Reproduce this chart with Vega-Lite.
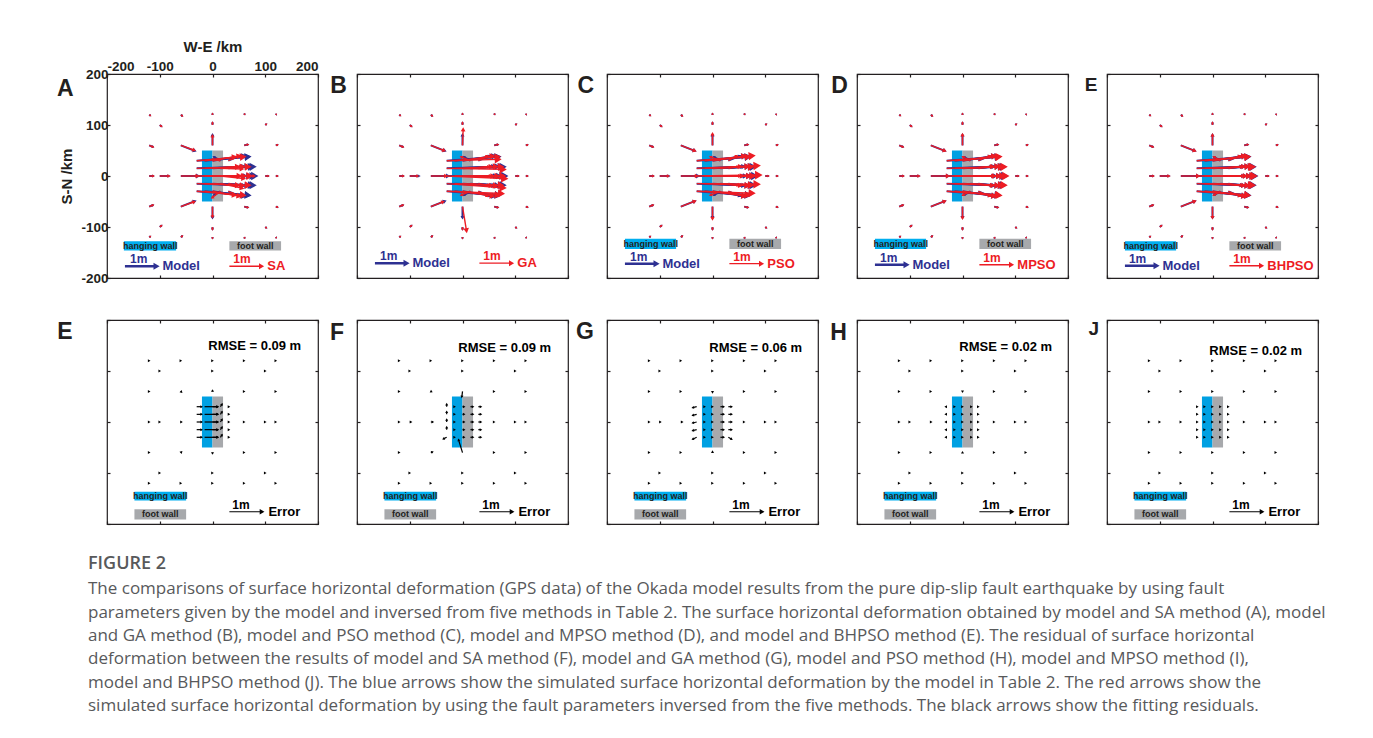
{
 "$schema": "https://vega.github.io/schema/vega-lite/v6.json",
 "background": "white",
 "padding": {"left": 56, "top": 38, "right": 10, "bottom": 10},
 "spacing": 32,
 "datasets": {
  "fault": [
   {"part": "hanging wall", "x0": -20, "x1": 0, "y0": -50, "y1": 50},
   {"part": "foot wall", "x0": 0, "x1": 20, "y0": -50, "y1": 50}
  ],
  "gps": [
   {"x":-120,"y":120,"u":0.04,"v":-0.03,"uA":0.04,"vA":-0.03,"uB":0.04,"vB":-0.03,"uC":0.04,"vC":-0.03,"uD":0.04,"vD":-0.03,"uE":0.04,"vE":-0.03},
   {"x":-60,"y":120,"u":0.05,"v":-0.04,"uA":0.05,"vA":-0.04,"uB":0.05,"vB":-0.04,"uC":0.05,"vC":-0.04,"uD":0.05,"vD":-0.04,"uE":0.05,"vE":-0.04},
   {"x":0,"y":120,"u":0,"v":0.04,"uA":0,"vA":0.04,"uB":0,"vB":0.04,"uC":0,"vC":0.04,"uD":0,"vD":0.04,"uE":0,"vE":0.04},
   {"x":60,"y":120,"u":0.02,"v":0.03,"uA":0.02,"vA":0.03,"uB":0.02,"vB":0.03,"uC":0.02,"vC":0.03,"uD":0.02,"vD":0.03,"uE":0.02,"vE":0.03},
   {"x":120,"y":120,"u":0.02,"v":0.02,"uA":0.02,"vA":0.02,"uB":0.02,"vB":0.02,"uC":0.02,"vC":0.02,"uD":0.02,"vD":0.02,"uE":0.02,"vE":0.02},
   {"x":-100,"y":100,"u":0.06,"v":-0.05,"uA":0.06,"vA":-0.05,"uB":0.06,"vB":-0.05,"uC":0.06,"vC":-0.05,"uD":0.06,"vD":-0.05,"uE":0.06,"vE":-0.05},
   {"x":0,"y":100,"u":0,"v":0.08,"uA":0,"vA":0.08,"uB":0,"vB":0.08,"uC":0,"vC":0.08,"uD":0,"vD":0.08,"uE":0,"vE":0.08},
   {"x":100,"y":100,"u":0.04,"v":0.03,"uA":0.04,"vA":0.03,"uB":0.04,"vB":0.03,"uC":0.04,"vC":0.03,"uD":0.04,"vD":0.03,"uE":0.04,"vE":0.03},
   {"x":-120,"y":60,"u":0.12,"v":-0.05,"uA":0.12,"vA":-0.05,"uB":0.12,"vB":-0.05,"uC":0.12,"vC":-0.05,"uD":0.12,"vD":-0.05,"uE":0.12,"vE":-0.05},
   {"x":-60,"y":60,"u":0.42,"v":-0.17,"uA":0.4,"vA":-0.15,"uB":0.4,"vB":-0.16,"uC":0.42,"vC":-0.17,"uD":0.42,"vD":-0.17,"uE":0.42,"vE":-0.17},
   {"x":0,"y":60,"u":0,"v":0.33,"uA":0,"vA":0.3,"uB":0.02,"vB":0.5,"uC":0,"vC":0.36,"uD":0,"vD":0.34,"uE":0,"vE":0.33},
   {"x":60,"y":60,"u":0.12,"v":0.03,"uA":0.12,"vA":0.03,"uB":0.12,"vB":0.03,"uC":0.12,"vC":0.03,"uD":0.12,"vD":0.03,"uE":0.12,"vE":0.03},
   {"x":120,"y":60,"u":0.06,"v":0.02,"uA":0.06,"vA":0.02,"uB":0.06,"vB":0.02,"uC":0.06,"vC":0.02,"uD":0.06,"vD":0.02,"uE":0.06,"vE":0.02},
   {"x":-120,"y":0,"u":0.13,"v":0,"uA":0.13,"vA":0,"uB":0.13,"vB":0,"uC":0.13,"vC":0,"uD":0.13,"vD":0,"uE":0.13,"vE":0},
   {"x":-100,"y":0,"u":0.28,"v":0,"uA":0.28,"vA":0,"uB":0.24,"vB":0,"uC":0.26,"vC":0,"uD":0.28,"vD":0,"uE":0.28,"vE":0},
   {"x":-60,"y":0,"u":0.52,"v":0,"uA":0.5,"vA":0,"uB":0.46,"vB":0,"uC":0.48,"vC":0,"uD":0.51,"vD":0,"uE":0.52,"vE":0},
   {"x":60,"y":0,"u":0.3,"v":0,"uA":0.3,"vA":0,"uB":0.3,"vB":0,"uC":0.3,"vC":0,"uD":0.3,"vD":0,"uE":0.3,"vE":0},
   {"x":100,"y":0,"u":0.1,"v":0,"uA":0.1,"vA":0,"uB":0.1,"vB":0,"uC":0.1,"vC":0,"uD":0.1,"vD":0,"uE":0.1,"vE":0},
   {"x":120,"y":0,"u":0.06,"v":0,"uA":0.06,"vA":0,"uB":0.06,"vB":0,"uC":0.06,"vC":0,"uD":0.06,"vD":0,"uE":0.06,"vE":0},
   {"x":-120,"y":-60,"u":0.12,"v":0.05,"uA":0.12,"vA":0.05,"uB":0.12,"vB":0.05,"uC":0.12,"vC":0.05,"uD":0.12,"vD":0.05,"uE":0.12,"vE":0.05},
   {"x":-60,"y":-60,"u":0.42,"v":0.17,"uA":0.4,"vA":0.15,"uB":0.37,"vB":0.15,"uC":0.42,"vC":0.17,"uD":0.42,"vD":0.17,"uE":0.42,"vE":0.17},
   {"x":0,"y":-60,"u":0,"v":-0.35,"uA":0,"vA":-0.32,"uB":0.12,"vB":-0.75,"uC":0,"vC":-0.38,"uD":0,"vD":-0.36,"uE":0,"vE":-0.35},
   {"x":60,"y":-60,"u":0.12,"v":-0.03,"uA":0.12,"vA":-0.03,"uB":0.12,"vB":-0.03,"uC":0.12,"vC":-0.03,"uD":0.12,"vD":-0.03,"uE":0.12,"vE":-0.03},
   {"x":120,"y":-60,"u":0.06,"v":-0.02,"uA":0.06,"vA":-0.02,"uB":0.06,"vB":-0.02,"uC":0.06,"vC":-0.02,"uD":0.06,"vD":-0.02,"uE":0.06,"vE":-0.02},
   {"x":-100,"y":-100,"u":0.06,"v":0.05,"uA":0.06,"vA":0.05,"uB":0.06,"vB":0.05,"uC":0.06,"vC":0.05,"uD":0.06,"vD":0.05,"uE":0.06,"vE":0.05},
   {"x":0,"y":-100,"u":0,"v":-0.08,"uA":0,"vA":-0.08,"uB":0,"vB":-0.08,"uC":0,"vC":-0.08,"uD":0,"vD":-0.08,"uE":0,"vE":-0.08},
   {"x":100,"y":-100,"u":0.04,"v":-0.03,"uA":0.04,"vA":-0.03,"uB":0.04,"vB":-0.03,"uC":0.04,"vC":-0.03,"uD":0.04,"vD":-0.03,"uE":0.04,"vE":-0.03},
   {"x":-120,"y":-120,"u":0.04,"v":0.03,"uA":0.04,"vA":0.03,"uB":0.04,"vB":0.03,"uC":0.04,"vC":0.03,"uD":0.04,"vD":0.03,"uE":0.04,"vE":0.03},
   {"x":-60,"y":-120,"u":0.05,"v":0.04,"uA":0.05,"vA":0.04,"uB":0.05,"vB":0.04,"uC":0.05,"vC":0.04,"uD":0.05,"vD":0.04,"uE":0.05,"vE":0.04},
   {"x":0,"y":-120,"u":0,"v":-0.04,"uA":0,"vA":-0.04,"uB":0,"vB":-0.04,"uC":0,"vC":-0.04,"uD":0,"vD":-0.04,"uE":0,"vE":-0.04},
   {"x":60,"y":-120,"u":0.02,"v":-0.03,"uA":0.02,"vA":-0.03,"uB":0.02,"vB":-0.03,"uC":0.02,"vC":-0.03,"uD":0.02,"vD":-0.03,"uE":0.02,"vE":-0.03},
   {"x":120,"y":-120,"u":0.02,"v":-0.02,"uA":0.02,"vA":-0.02,"uB":0.02,"vB":-0.02,"uC":0.02,"vC":-0.02,"uD":0.02,"vD":-0.02,"uE":0.02,"vE":-0.02},
   {"x":-30,"y":30,"u":1.55,"v":0.12,"uA":1.4,"vA":0.12,"uB":1.55,"vB":0.04,"uC":1.67,"vC":0.15,"uD":1.58,"vD":0.12,"uE":1.53,"vE":0.12},
   {"x":-15,"y":30,"u":1.3,"v":0.12,"uA":0.9,"vA":0.12,"uB":1.3,"vB":0.12,"uC":1.3,"vC":0.12,"uD":1.3,"vD":0.12,"uE":1.3,"vE":0.12},
   {"x":0,"y":30,"u":0.95,"v":0.15,"uA":0.8,"vA":0.15,"uB":0.9,"vB":0.15,"uC":0.95,"vC":0.15,"uD":0.95,"vD":0.15,"uE":0.95,"vE":0.15},
   {"x":15,"y":30,"u":-0.2,"v":0.12,"uA":-0.25,"vA":0.04,"uB":-0.28,"vB":0.12,"uC":-0.3,"vC":0.12,"uD":-0.23,"vD":0.12,"uE":-0.2,"vE":0.12},
   {"x":30,"y":30,"u":0.35,"v":0.15,"uA":0.33,"vA":0.15,"uB":0.27,"vB":0.15,"uC":0.25,"vC":0.15,"uD":0.35,"vD":0.15,"uE":0.35,"vE":0.15},
   {"x":-30,"y":15,"u":1.7,"v":0.05,"uA":1.55,"vA":0.05,"uB":1.7,"vB":-0.03,"uC":1.82,"vC":0.08,"uD":1.73,"vD":0.05,"uE":1.68,"vE":0.05},
   {"x":-15,"y":15,"u":1.4,"v":0.05,"uA":1.0,"vA":0.05,"uB":1.4,"vB":0.05,"uC":1.4,"vC":0.05,"uD":1.4,"vD":0.05,"uE":1.4,"vE":0.05},
   {"x":0,"y":15,"u":1.05,"v":0.06,"uA":0.9,"vA":0.06,"uB":1.0,"vB":0.06,"uC":1.05,"vC":0.06,"uD":1.05,"vD":0.06,"uE":1.05,"vE":0.06},
   {"x":15,"y":15,"u":0.7,"v":0.06,"uA":0.65,"vA":-0.02,"uB":0.62,"vB":0.06,"uC":0.6,"vC":0.06,"uD":0.67,"vD":0.06,"uE":0.7,"vE":0.06},
   {"x":30,"y":15,"u":0.4,"v":0.05,"uA":0.38,"vA":0.05,"uB":0.32,"vB":0.05,"uC":0.3,"vC":0.05,"uD":0.4,"vD":0.05,"uE":0.4,"vE":0.05},
   {"x":-30,"y":0,"u":1.75,"v":0,"uA":1.6,"vA":0,"uB":1.75,"vB":-0.08,"uC":1.87,"vC":0.03,"uD":1.78,"vD":0,"uE":1.73,"vE":0},
   {"x":-15,"y":0,"u":1.45,"v":0,"uA":1.05,"vA":0,"uB":1.45,"vB":0,"uC":1.45,"vC":0,"uD":1.45,"vD":0,"uE":1.45,"vE":0},
   {"x":0,"y":0,"u":1.1,"v":0,"uA":0.95,"vA":0,"uB":1.05,"vB":0,"uC":1.1,"vC":0,"uD":1.1,"vD":0,"uE":1.1,"vE":0},
   {"x":15,"y":0,"u":0.75,"v":0,"uA":0.7,"vA":-0.08,"uB":0.67,"vB":0,"uC":0.65,"vC":0,"uD":0.72,"vD":0,"uE":0.75,"vE":0},
   {"x":30,"y":0,"u":0.45,"v":0,"uA":0.43,"vA":0,"uB":0.37,"vB":0,"uC":0.35,"vC":0,"uD":0.45,"vD":0,"uE":0.45,"vE":0},
   {"x":-30,"y":-15,"u":1.7,"v":-0.05,"uA":1.55,"vA":-0.05,"uB":1.7,"vB":-0.13,"uC":1.82,"vC":-0.02,"uD":1.73,"vD":-0.05,"uE":1.68,"vE":-0.05},
   {"x":-15,"y":-15,"u":1.4,"v":-0.05,"uA":1.0,"vA":-0.05,"uB":1.4,"vB":-0.05,"uC":1.4,"vC":-0.05,"uD":1.4,"vD":-0.05,"uE":1.4,"vE":-0.05},
   {"x":0,"y":-15,"u":1.05,"v":-0.06,"uA":0.9,"vA":-0.06,"uB":1.0,"vB":-0.06,"uC":1.05,"vC":-0.06,"uD":1.05,"vD":-0.06,"uE":1.05,"vE":-0.06},
   {"x":15,"y":-15,"u":0.7,"v":-0.06,"uA":0.65,"vA":-0.14,"uB":0.62,"vB":-0.06,"uC":0.6,"vC":-0.06,"uD":0.67,"vD":-0.06,"uE":0.7,"vE":-0.06},
   {"x":30,"y":-15,"u":0.4,"v":-0.05,"uA":0.38,"vA":-0.05,"uB":0.32,"vB":-0.05,"uC":0.3,"vC":-0.05,"uD":0.4,"vD":-0.05,"uE":0.4,"vE":-0.05},
   {"x":-30,"y":-30,"u":1.55,"v":-0.12,"uA":1.4,"vA":-0.12,"uB":1.65,"vB":-0.07,"uC":1.67,"vC":-0.06,"uD":1.58,"vD":-0.12,"uE":1.53,"vE":-0.12},
   {"x":-15,"y":-30,"u":1.3,"v":-0.12,"uA":0.9,"vA":-0.12,"uB":1.3,"vB":-0.12,"uC":1.3,"vC":-0.12,"uD":1.3,"vD":-0.12,"uE":1.3,"vE":-0.12},
   {"x":0,"y":-30,"u":0.95,"v":-0.15,"uA":0.8,"vA":-0.15,"uB":0.9,"vB":-0.15,"uC":0.95,"vC":-0.15,"uD":0.95,"vD":-0.15,"uE":0.95,"vE":-0.15},
   {"x":15,"y":-30,"u":-0.2,"v":-0.12,"uA":-0.25,"vA":-0.2,"uB":-0.28,"vB":-0.12,"uC":-0.3,"vC":-0.12,"uD":-0.23,"vD":-0.12,"uE":-0.2,"vE":-0.12},
   {"x":30,"y":-30,"u":0.35,"v":-0.15,"uA":0.33,"vA":-0.15,"uB":0.27,"vB":-0.15,"uC":0.25,"vC":-0.09,"uD":0.35,"vD":-0.15,"uE":0.35,"vE":-0.15}
  ]
 },
 "title": {
  "text": "FIGURE 2",
  "subtitle": [
   "The comparisons of surface horizontal deformation (GPS data) of the Okada model results from the pure dip-slip fault earthquake by using fault",
   "parameters given by the model and inversed from five methods in Table 2. The surface horizontal deformation obtained by model and SA method (A), model",
   "and GA method (B), model and PSO method (C), model and MPSO method (D), and model and BHPSO method (E). The residual of surface horizontal",
   "deformation between the results of model and SA method (F), model and GA method (G), model and PSO method (H), model and MPSO method (I),",
   "model and BHPSO method (J). The blue arrows show the simulated surface horizontal deformation by the model in Table 2. The red arrows show the",
   "simulated surface horizontal deformation by using the fault parameters inversed from the five methods. The black arrows show the fitting residuals."
  ],
  "orient": "bottom", "anchor": "start", "frame": "group",
  "offset": 30, "dx": -19,
  "font": "Open Sans", "fontSize": 18, "fontWeight": 600, "color": "#58595b",
  "subtitleFont": "Open Sans", "subtitleFontSize": 17, "subtitleColor": "#58595b",
  "subtitleLineHeight": 23.4, "subtitlePadding": 8
 },
 "vconcat": [
  {"hconcat": [
   {"width": 211, "height": 204,
    "resolve": {"axis": {"x": "independent", "y": "independent"}},
    "layer": [
     {"layer": [
      {"data": {"name": "fault"}, "mark": "rect",
       "encoding": {
        "x": {"field": "x0", "type": "quantitative", "scale": {"domain": [-200, 200], "nice": false}, "axis": {"orient": "top", "labels": true, "title": "W-E /km", "labelPadding": 4, "titlePadding": 5, "labelExpr": "replace(datum.label, '\u2212', '-')"}},
        "x2": {"field": "x1"},
        "y": {"field": "y0", "type": "quantitative", "scale": {"domain": [-200, 200], "nice": false}, "axis": {"labels": true, "title": "S-N /km", "labelPadding": 2, "titlePadding": 6, "labelExpr": "replace(datum.label, '\u2212', '-')"}},
        "y2": {"field": "y1"},
        "color": {"field": "part", "type": "nominal", "scale": {"domain": ["hanging wall", "foot wall"], "range": ["#00a0e2", "#a7a9ac"]}, "legend": null}}},
      {"data": {"values": [{}]}, "mark": {"type": "rect", "color": "#00aeef"}, "encoding": {"x": {"datum": -168}, "x2": {"datum": -69}, "y": {"datum": -128}, "y2": {"datum": -146}}},
      {"data": {"values": [{}]}, "mark": {"type": "rect", "color": "#a7a9ac"}, "encoding": {"x": {"datum": 32}, "x2": {"datum": 130}, "y": {"datum": -128}, "y2": {"datum": -146}}},
      {"data": {"values": [{}]}, "mark": {"type": "text", "style": "bx", "text": "hanging wall", "color": "#231f20"}, "encoding": {"x": {"datum": -118}, "y": {"datum": -137}}},
      {"data": {"values": [{}]}, "mark": {"type": "text", "style": "bx", "text": "foot wall", "color": "#231f20"}, "encoding": {"x": {"datum": 81}, "y": {"datum": -137}}},
      {"data": {"name": "gps"},
       "transform": [{"calculate": "datum.x + 63 * datum.u", "as": "xe"}, {"calculate": "datum.y + 63 * datum.v", "as": "ye"}, {"calculate": "atan2(-datum.v, datum.u) * 180 / PI", "as": "ang"}, {"calculate": "sqrt(datum.u * datum.u + datum.v * datum.v)", "as": "mag"}],
       "layer": [
        {"mark": {"type": "rule", "color": "#2e3192", "strokeWidth": 2}, "encoding": {"x": {"field": "x", "type": "quantitative"}, "y": {"field": "y", "type": "quantitative"}, "x2": {"field": "xe"}, "y2": {"field": "ye"}}},
        {"mark": {"type": "point", "shape": "triangle-right", "filled": true, "opacity": 1, "color": "#2e3192"}, "encoding": {"x": {"field": "xe", "type": "quantitative"}, "y": {"field": "ye", "type": "quantitative"}, "angle": {"field": "ang", "type": "quantitative", "scale": null}, "size": {"field": "mag", "type": "quantitative", "scale": {"domain": [0, 2], "range": [3, 80]}, "legend": null}}}
       ]},
      {"data": {"name": "gps"},
       "transform": [{"calculate": "datum.x + 63 * datum.uA", "as": "xe"}, {"calculate": "datum.y + 63 * datum.vA", "as": "ye"}, {"calculate": "atan2(-datum.vA, datum.uA) * 180 / PI", "as": "ang"}, {"calculate": "sqrt(datum.uA * datum.uA + datum.vA * datum.vA)", "as": "mag"}],
       "layer": [
        {"mark": {"type": "rule", "color": "#ed1c24", "strokeWidth": 1.4}, "encoding": {"x": {"field": "x", "type": "quantitative"}, "y": {"field": "y", "type": "quantitative"}, "x2": {"field": "xe"}, "y2": {"field": "ye"}}},
        {"mark": {"type": "point", "shape": "triangle-right", "filled": true, "opacity": 1, "color": "#ed1c24"}, "encoding": {"x": {"field": "xe", "type": "quantitative"}, "y": {"field": "ye", "type": "quantitative"}, "angle": {"field": "ang", "type": "quantitative", "scale": null}, "size": {"field": "mag", "type": "quantitative", "scale": {"domain": [0, 2], "range": [2, 60]}, "legend": null}}}
       ]},
      {"data": {"values": [{}]}, "mark": {"type": "rule", "color": "#2e3192", "strokeWidth": 2.4}, "encoding": {"x": {"datum": -166}, "x2": {"datum": -106}, "y": {"datum": -177}}},
      {"data": {"values": [{}]}, "mark": {"type": "point", "shape": "triangle-right", "filled": true, "opacity": 1, "color": "#2e3192", "size": 50}, "encoding": {"x": {"datum": -106}, "y": {"datum": -177}}},
      {"data": {"values": [{}]}, "mark": {"type": "text", "style": "om", "text": "1m", "color": "#2e3192"}, "encoding": {"x": {"datum": -140}, "y": {"datum": -163}}},
      {"data": {"values": [{}]}, "mark": {"type": "text", "style": "ky", "text": "Model", "color": "#2e3192"}, "encoding": {"x": {"datum": -95}, "y": {"datum": -177}}},
      {"data": {"values": [{}]}, "mark": {"type": "rule", "color": "#ed1c24", "strokeWidth": 1.3}, "encoding": {"x": {"datum": 32}, "x2": {"datum": 93}, "y": {"datum": -177}}},
      {"data": {"values": [{}]}, "mark": {"type": "point", "shape": "triangle-right", "filled": true, "opacity": 1, "color": "#ed1c24", "size": 35}, "encoding": {"x": {"datum": 93}, "y": {"datum": -177}}},
      {"data": {"values": [{}]}, "mark": {"type": "text", "style": "om", "text": "1m", "color": "#ed1c24"}, "encoding": {"x": {"datum": 56}, "y": {"datum": -163}}},
      {"data": {"values": [{}]}, "mark": {"type": "text", "style": "ky", "text": "SA", "color": "#ed1c24"}, "encoding": {"x": {"datum": 104}, "y": {"datum": -177}}}
     ]},
     {"data": {"values": [{}]}, "mark": {"type": "text", "style": "lt", "text": "A", "color": "#231f20"}, "encoding": {"x": {"datum": -279, "axis": {"orient": "bottom", "title": null}}, "y": {"datum": 157, "axis": {"orient": "right", "title": null}}}}
    ]},
   {"width": 211, "height": 204,
    "resolve": {"axis": {"x": "independent", "y": "independent"}},
    "layer": [
     {"layer": [
      {"data": {"name": "fault"}, "mark": "rect",
       "encoding": {
        "x": {"field": "x0", "type": "quantitative", "scale": {"domain": [-200, 200], "nice": false}, "axis": {"title": null}},
        "x2": {"field": "x1"},
        "y": {"field": "y0", "type": "quantitative", "scale": {"domain": [-200, 200], "nice": false}, "axis": {"title": null}},
        "y2": {"field": "y1"},
        "color": {"field": "part", "type": "nominal", "scale": {"domain": ["hanging wall", "foot wall"], "range": ["#00a0e2", "#a7a9ac"]}, "legend": null}}},
      {"data": {"name": "gps"},
       "transform": [{"calculate": "datum.x + 63 * datum.u", "as": "xe"}, {"calculate": "datum.y + 63 * datum.v", "as": "ye"}, {"calculate": "atan2(-datum.v, datum.u) * 180 / PI", "as": "ang"}, {"calculate": "sqrt(datum.u * datum.u + datum.v * datum.v)", "as": "mag"}],
       "layer": [
        {"mark": {"type": "rule", "color": "#2e3192", "strokeWidth": 2}, "encoding": {"x": {"field": "x", "type": "quantitative"}, "y": {"field": "y", "type": "quantitative"}, "x2": {"field": "xe"}, "y2": {"field": "ye"}}},
        {"mark": {"type": "point", "shape": "triangle-right", "filled": true, "opacity": 1, "color": "#2e3192"}, "encoding": {"x": {"field": "xe", "type": "quantitative"}, "y": {"field": "ye", "type": "quantitative"}, "angle": {"field": "ang", "type": "quantitative", "scale": null}, "size": {"field": "mag", "type": "quantitative", "scale": {"domain": [0, 2], "range": [3, 80]}, "legend": null}}}
       ]},
      {"data": {"name": "gps"},
       "transform": [{"calculate": "datum.x + 63 * datum.uB", "as": "xe"}, {"calculate": "datum.y + 63 * datum.vB", "as": "ye"}, {"calculate": "atan2(-datum.vB, datum.uB) * 180 / PI", "as": "ang"}, {"calculate": "sqrt(datum.uB * datum.uB + datum.vB * datum.vB)", "as": "mag"}],
       "layer": [
        {"mark": {"type": "rule", "color": "#ed1c24", "strokeWidth": 1.4}, "encoding": {"x": {"field": "x", "type": "quantitative"}, "y": {"field": "y", "type": "quantitative"}, "x2": {"field": "xe"}, "y2": {"field": "ye"}}},
        {"mark": {"type": "point", "shape": "triangle-right", "filled": true, "opacity": 1, "color": "#ed1c24"}, "encoding": {"x": {"field": "xe", "type": "quantitative"}, "y": {"field": "ye", "type": "quantitative"}, "angle": {"field": "ang", "type": "quantitative", "scale": null}, "size": {"field": "mag", "type": "quantitative", "scale": {"domain": [0, 2], "range": [2, 60]}, "legend": null}}}
       ]},
      {"data": {"values": [{}]}, "mark": {"type": "rule", "color": "#2e3192", "strokeWidth": 2.4}, "encoding": {"x": {"datum": -166}, "x2": {"datum": -106}, "y": {"datum": -171}}},
      {"data": {"values": [{}]}, "mark": {"type": "point", "shape": "triangle-right", "filled": true, "opacity": 1, "color": "#2e3192", "size": 50}, "encoding": {"x": {"datum": -106}, "y": {"datum": -171}}},
      {"data": {"values": [{}]}, "mark": {"type": "text", "style": "om", "text": "1m", "color": "#2e3192"}, "encoding": {"x": {"datum": -140}, "y": {"datum": -157}}},
      {"data": {"values": [{}]}, "mark": {"type": "text", "style": "ky", "text": "Model", "color": "#2e3192"}, "encoding": {"x": {"datum": -95}, "y": {"datum": -171}}},
      {"data": {"values": [{}]}, "mark": {"type": "rule", "color": "#ed1c24", "strokeWidth": 1.3}, "encoding": {"x": {"datum": 32}, "x2": {"datum": 93}, "y": {"datum": -171}}},
      {"data": {"values": [{}]}, "mark": {"type": "point", "shape": "triangle-right", "filled": true, "opacity": 1, "color": "#ed1c24", "size": 35}, "encoding": {"x": {"datum": 93}, "y": {"datum": -171}}},
      {"data": {"values": [{}]}, "mark": {"type": "text", "style": "om", "text": "1m", "color": "#ed1c24"}, "encoding": {"x": {"datum": 56}, "y": {"datum": -157}}},
      {"data": {"values": [{}]}, "mark": {"type": "text", "style": "ky", "text": "GA", "color": "#ed1c24"}, "encoding": {"x": {"datum": 104}, "y": {"datum": -171}}}
     ]},
     {"data": {"values": [{}]}, "mark": {"type": "text", "style": "lt", "text": "B", "color": "#231f20"}, "encoding": {"x": {"datum": -235, "axis": {"orient": "top", "title": null}}, "y": {"datum": 162, "axis": {"orient": "right", "title": null}}}}
    ]},
   {"width": 211, "height": 204,
    "resolve": {"axis": {"x": "independent", "y": "independent"}},
    "layer": [
     {"layer": [
      {"data": {"name": "fault"}, "mark": "rect",
       "encoding": {
        "x": {"field": "x0", "type": "quantitative", "scale": {"domain": [-200, 200], "nice": false}, "axis": {"title": null}},
        "x2": {"field": "x1"},
        "y": {"field": "y0", "type": "quantitative", "scale": {"domain": [-200, 200], "nice": false}, "axis": {"title": null}},
        "y2": {"field": "y1"},
        "color": {"field": "part", "type": "nominal", "scale": {"domain": ["hanging wall", "foot wall"], "range": ["#00a0e2", "#a7a9ac"]}, "legend": null}}},
      {"data": {"values": [{}]}, "mark": {"type": "rect", "color": "#00aeef"}, "encoding": {"x": {"datum": -166}, "x2": {"datum": -69}, "y": {"datum": -123}, "y2": {"datum": -143}}},
      {"data": {"values": [{}]}, "mark": {"type": "rect", "color": "#a7a9ac"}, "encoding": {"x": {"datum": 32}, "x2": {"datum": 130}, "y": {"datum": -123}, "y2": {"datum": -143}}},
      {"data": {"values": [{}]}, "mark": {"type": "text", "style": "bx", "text": "hanging wall", "color": "#231f20"}, "encoding": {"x": {"datum": -117}, "y": {"datum": -133}}},
      {"data": {"values": [{}]}, "mark": {"type": "text", "style": "bx", "text": "foot wall", "color": "#231f20"}, "encoding": {"x": {"datum": 81}, "y": {"datum": -133}}},
      {"data": {"name": "gps"},
       "transform": [{"calculate": "datum.x + 63 * datum.u", "as": "xe"}, {"calculate": "datum.y + 63 * datum.v", "as": "ye"}, {"calculate": "atan2(-datum.v, datum.u) * 180 / PI", "as": "ang"}, {"calculate": "sqrt(datum.u * datum.u + datum.v * datum.v)", "as": "mag"}],
       "layer": [
        {"mark": {"type": "rule", "color": "#2e3192", "strokeWidth": 2}, "encoding": {"x": {"field": "x", "type": "quantitative"}, "y": {"field": "y", "type": "quantitative"}, "x2": {"field": "xe"}, "y2": {"field": "ye"}}},
        {"mark": {"type": "point", "shape": "triangle-right", "filled": true, "opacity": 1, "color": "#2e3192"}, "encoding": {"x": {"field": "xe", "type": "quantitative"}, "y": {"field": "ye", "type": "quantitative"}, "angle": {"field": "ang", "type": "quantitative", "scale": null}, "size": {"field": "mag", "type": "quantitative", "scale": {"domain": [0, 2], "range": [3, 80]}, "legend": null}}}
       ]},
      {"data": {"name": "gps"},
       "transform": [{"calculate": "datum.x + 63 * datum.uC", "as": "xe"}, {"calculate": "datum.y + 63 * datum.vC", "as": "ye"}, {"calculate": "atan2(-datum.vC, datum.uC) * 180 / PI", "as": "ang"}, {"calculate": "sqrt(datum.uC * datum.uC + datum.vC * datum.vC)", "as": "mag"}],
       "layer": [
        {"mark": {"type": "rule", "color": "#ed1c24", "strokeWidth": 1.4}, "encoding": {"x": {"field": "x", "type": "quantitative"}, "y": {"field": "y", "type": "quantitative"}, "x2": {"field": "xe"}, "y2": {"field": "ye"}}},
        {"mark": {"type": "point", "shape": "triangle-right", "filled": true, "opacity": 1, "color": "#ed1c24"}, "encoding": {"x": {"field": "xe", "type": "quantitative"}, "y": {"field": "ye", "type": "quantitative"}, "angle": {"field": "ang", "type": "quantitative", "scale": null}, "size": {"field": "mag", "type": "quantitative", "scale": {"domain": [0, 2], "range": [2, 60]}, "legend": null}}}
       ]},
      {"data": {"values": [{}]}, "mark": {"type": "rule", "color": "#2e3192", "strokeWidth": 2.4}, "encoding": {"x": {"datum": -166}, "x2": {"datum": -106}, "y": {"datum": -172}}},
      {"data": {"values": [{}]}, "mark": {"type": "point", "shape": "triangle-right", "filled": true, "opacity": 1, "color": "#2e3192", "size": 50}, "encoding": {"x": {"datum": -106}, "y": {"datum": -172}}},
      {"data": {"values": [{}]}, "mark": {"type": "text", "style": "om", "text": "1m", "color": "#2e3192"}, "encoding": {"x": {"datum": -140}, "y": {"datum": -158}}},
      {"data": {"values": [{}]}, "mark": {"type": "text", "style": "ky", "text": "Model", "color": "#2e3192"}, "encoding": {"x": {"datum": -95}, "y": {"datum": -172}}},
      {"data": {"values": [{}]}, "mark": {"type": "rule", "color": "#ed1c24", "strokeWidth": 1.3}, "encoding": {"x": {"datum": 32}, "x2": {"datum": 93}, "y": {"datum": -172}}},
      {"data": {"values": [{}]}, "mark": {"type": "point", "shape": "triangle-right", "filled": true, "opacity": 1, "color": "#ed1c24", "size": 35}, "encoding": {"x": {"datum": 93}, "y": {"datum": -172}}},
      {"data": {"values": [{}]}, "mark": {"type": "text", "style": "om", "text": "1m", "color": "#ed1c24"}, "encoding": {"x": {"datum": 56}, "y": {"datum": -158}}},
      {"data": {"values": [{}]}, "mark": {"type": "text", "style": "ky", "text": "PSO", "color": "#ed1c24"}, "encoding": {"x": {"datum": 104}, "y": {"datum": -172}}}
     ]},
     {"data": {"values": [{}]}, "mark": {"type": "text", "style": "lt", "text": "C", "color": "#231f20"}, "encoding": {"x": {"datum": -240, "axis": {"orient": "top", "title": null}}, "y": {"datum": 162, "axis": {"orient": "right", "title": null}}}}
    ]},
   {"width": 211, "height": 204,
    "resolve": {"axis": {"x": "independent", "y": "independent"}},
    "layer": [
     {"layer": [
      {"data": {"name": "fault"}, "mark": "rect",
       "encoding": {
        "x": {"field": "x0", "type": "quantitative", "scale": {"domain": [-200, 200], "nice": false}, "axis": {"title": null}},
        "x2": {"field": "x1"},
        "y": {"field": "y0", "type": "quantitative", "scale": {"domain": [-200, 200], "nice": false}, "axis": {"title": null}},
        "y2": {"field": "y1"},
        "color": {"field": "part", "type": "nominal", "scale": {"domain": ["hanging wall", "foot wall"], "range": ["#00a0e2", "#a7a9ac"]}, "legend": null}}},
      {"data": {"values": [{}]}, "mark": {"type": "rect", "color": "#00aeef"}, "encoding": {"x": {"datum": -166}, "x2": {"datum": -69}, "y": {"datum": -123}, "y2": {"datum": -143}}},
      {"data": {"values": [{}]}, "mark": {"type": "rect", "color": "#a7a9ac"}, "encoding": {"x": {"datum": 32}, "x2": {"datum": 130}, "y": {"datum": -123}, "y2": {"datum": -143}}},
      {"data": {"values": [{}]}, "mark": {"type": "text", "style": "bx", "text": "hanging wall", "color": "#231f20"}, "encoding": {"x": {"datum": -117}, "y": {"datum": -133}}},
      {"data": {"values": [{}]}, "mark": {"type": "text", "style": "bx", "text": "foot wall", "color": "#231f20"}, "encoding": {"x": {"datum": 81}, "y": {"datum": -133}}},
      {"data": {"name": "gps"},
       "transform": [{"calculate": "datum.x + 63 * datum.u", "as": "xe"}, {"calculate": "datum.y + 63 * datum.v", "as": "ye"}, {"calculate": "atan2(-datum.v, datum.u) * 180 / PI", "as": "ang"}, {"calculate": "sqrt(datum.u * datum.u + datum.v * datum.v)", "as": "mag"}],
       "layer": [
        {"mark": {"type": "rule", "color": "#2e3192", "strokeWidth": 2}, "encoding": {"x": {"field": "x", "type": "quantitative"}, "y": {"field": "y", "type": "quantitative"}, "x2": {"field": "xe"}, "y2": {"field": "ye"}}},
        {"mark": {"type": "point", "shape": "triangle-right", "filled": true, "opacity": 1, "color": "#2e3192"}, "encoding": {"x": {"field": "xe", "type": "quantitative"}, "y": {"field": "ye", "type": "quantitative"}, "angle": {"field": "ang", "type": "quantitative", "scale": null}, "size": {"field": "mag", "type": "quantitative", "scale": {"domain": [0, 2], "range": [3, 80]}, "legend": null}}}
       ]},
      {"data": {"name": "gps"},
       "transform": [{"calculate": "datum.x + 63 * datum.uD", "as": "xe"}, {"calculate": "datum.y + 63 * datum.vD", "as": "ye"}, {"calculate": "atan2(-datum.vD, datum.uD) * 180 / PI", "as": "ang"}, {"calculate": "sqrt(datum.uD * datum.uD + datum.vD * datum.vD)", "as": "mag"}],
       "layer": [
        {"mark": {"type": "rule", "color": "#ed1c24", "strokeWidth": 1.4}, "encoding": {"x": {"field": "x", "type": "quantitative"}, "y": {"field": "y", "type": "quantitative"}, "x2": {"field": "xe"}, "y2": {"field": "ye"}}},
        {"mark": {"type": "point", "shape": "triangle-right", "filled": true, "opacity": 1, "color": "#ed1c24"}, "encoding": {"x": {"field": "xe", "type": "quantitative"}, "y": {"field": "ye", "type": "quantitative"}, "angle": {"field": "ang", "type": "quantitative", "scale": null}, "size": {"field": "mag", "type": "quantitative", "scale": {"domain": [0, 2], "range": [2, 60]}, "legend": null}}}
       ]},
      {"data": {"values": [{}]}, "mark": {"type": "rule", "color": "#2e3192", "strokeWidth": 2.4}, "encoding": {"x": {"datum": -166}, "x2": {"datum": -106}, "y": {"datum": -174}}},
      {"data": {"values": [{}]}, "mark": {"type": "point", "shape": "triangle-right", "filled": true, "opacity": 1, "color": "#2e3192", "size": 50}, "encoding": {"x": {"datum": -106}, "y": {"datum": -174}}},
      {"data": {"values": [{}]}, "mark": {"type": "text", "style": "om", "text": "1m", "color": "#2e3192"}, "encoding": {"x": {"datum": -140}, "y": {"datum": -160}}},
      {"data": {"values": [{}]}, "mark": {"type": "text", "style": "ky", "text": "Model", "color": "#2e3192"}, "encoding": {"x": {"datum": -95}, "y": {"datum": -174}}},
      {"data": {"values": [{}]}, "mark": {"type": "rule", "color": "#ed1c24", "strokeWidth": 1.3}, "encoding": {"x": {"datum": 32}, "x2": {"datum": 93}, "y": {"datum": -174}}},
      {"data": {"values": [{}]}, "mark": {"type": "point", "shape": "triangle-right", "filled": true, "opacity": 1, "color": "#ed1c24", "size": 35}, "encoding": {"x": {"datum": 93}, "y": {"datum": -174}}},
      {"data": {"values": [{}]}, "mark": {"type": "text", "style": "om", "text": "1m", "color": "#ed1c24"}, "encoding": {"x": {"datum": 56}, "y": {"datum": -160}}},
      {"data": {"values": [{}]}, "mark": {"type": "text", "style": "ky", "text": "MPSO", "color": "#ed1c24"}, "encoding": {"x": {"datum": 104}, "y": {"datum": -174}}}
     ]},
     {"data": {"values": [{}]}, "mark": {"type": "text", "style": "lt", "text": "D", "color": "#231f20"}, "encoding": {"x": {"datum": -233, "axis": {"orient": "top", "title": null}}, "y": {"datum": 162, "axis": {"orient": "right", "title": null}}}}
    ]},
   {"width": 211, "height": 204,
    "resolve": {"axis": {"x": "independent", "y": "independent"}},
    "layer": [
     {"layer": [
      {"data": {"name": "fault"}, "mark": "rect",
       "encoding": {
        "x": {"field": "x0", "type": "quantitative", "scale": {"domain": [-200, 200], "nice": false}, "axis": {"title": null}},
        "x2": {"field": "x1"},
        "y": {"field": "y0", "type": "quantitative", "scale": {"domain": [-200, 200], "nice": false}, "axis": {"title": null}},
        "y2": {"field": "y1"},
        "color": {"field": "part", "type": "nominal", "scale": {"domain": ["hanging wall", "foot wall"], "range": ["#00a0e2", "#a7a9ac"]}, "legend": null}}},
      {"data": {"values": [{}]}, "mark": {"type": "rect", "color": "#00aeef"}, "encoding": {"x": {"datum": -166}, "x2": {"datum": -69}, "y": {"datum": -128}, "y2": {"datum": -146}}},
      {"data": {"values": [{}]}, "mark": {"type": "rect", "color": "#a7a9ac"}, "encoding": {"x": {"datum": 32}, "x2": {"datum": 130}, "y": {"datum": -128}, "y2": {"datum": -146}}},
      {"data": {"values": [{}]}, "mark": {"type": "text", "style": "bx", "text": "hanging wall", "color": "#231f20"}, "encoding": {"x": {"datum": -117}, "y": {"datum": -137}}},
      {"data": {"values": [{}]}, "mark": {"type": "text", "style": "bx", "text": "foot wall", "color": "#231f20"}, "encoding": {"x": {"datum": 81}, "y": {"datum": -137}}},
      {"data": {"name": "gps"},
       "transform": [{"calculate": "datum.x + 63 * datum.u", "as": "xe"}, {"calculate": "datum.y + 63 * datum.v", "as": "ye"}, {"calculate": "atan2(-datum.v, datum.u) * 180 / PI", "as": "ang"}, {"calculate": "sqrt(datum.u * datum.u + datum.v * datum.v)", "as": "mag"}],
       "layer": [
        {"mark": {"type": "rule", "color": "#2e3192", "strokeWidth": 2}, "encoding": {"x": {"field": "x", "type": "quantitative"}, "y": {"field": "y", "type": "quantitative"}, "x2": {"field": "xe"}, "y2": {"field": "ye"}}},
        {"mark": {"type": "point", "shape": "triangle-right", "filled": true, "opacity": 1, "color": "#2e3192"}, "encoding": {"x": {"field": "xe", "type": "quantitative"}, "y": {"field": "ye", "type": "quantitative"}, "angle": {"field": "ang", "type": "quantitative", "scale": null}, "size": {"field": "mag", "type": "quantitative", "scale": {"domain": [0, 2], "range": [3, 80]}, "legend": null}}}
       ]},
      {"data": {"name": "gps"},
       "transform": [{"calculate": "datum.x + 63 * datum.uE", "as": "xe"}, {"calculate": "datum.y + 63 * datum.vE", "as": "ye"}, {"calculate": "atan2(-datum.vE, datum.uE) * 180 / PI", "as": "ang"}, {"calculate": "sqrt(datum.uE * datum.uE + datum.vE * datum.vE)", "as": "mag"}],
       "layer": [
        {"mark": {"type": "rule", "color": "#ed1c24", "strokeWidth": 1.4}, "encoding": {"x": {"field": "x", "type": "quantitative"}, "y": {"field": "y", "type": "quantitative"}, "x2": {"field": "xe"}, "y2": {"field": "ye"}}},
        {"mark": {"type": "point", "shape": "triangle-right", "filled": true, "opacity": 1, "color": "#ed1c24"}, "encoding": {"x": {"field": "xe", "type": "quantitative"}, "y": {"field": "ye", "type": "quantitative"}, "angle": {"field": "ang", "type": "quantitative", "scale": null}, "size": {"field": "mag", "type": "quantitative", "scale": {"domain": [0, 2], "range": [2, 60]}, "legend": null}}}
       ]},
      {"data": {"values": [{}]}, "mark": {"type": "rule", "color": "#2e3192", "strokeWidth": 2.4}, "encoding": {"x": {"datum": -166}, "x2": {"datum": -106}, "y": {"datum": -176}}},
      {"data": {"values": [{}]}, "mark": {"type": "point", "shape": "triangle-right", "filled": true, "opacity": 1, "color": "#2e3192", "size": 50}, "encoding": {"x": {"datum": -106}, "y": {"datum": -176}}},
      {"data": {"values": [{}]}, "mark": {"type": "text", "style": "om", "text": "1m", "color": "#2e3192"}, "encoding": {"x": {"datum": -142}, "y": {"datum": -163}}},
      {"data": {"values": [{}]}, "mark": {"type": "text", "style": "ky", "text": "Model", "color": "#2e3192"}, "encoding": {"x": {"datum": -95}, "y": {"datum": -176}}},
      {"data": {"values": [{}]}, "mark": {"type": "rule", "color": "#ed1c24", "strokeWidth": 1.3}, "encoding": {"x": {"datum": 32}, "x2": {"datum": 93}, "y": {"datum": -176}}},
      {"data": {"values": [{}]}, "mark": {"type": "point", "shape": "triangle-right", "filled": true, "opacity": 1, "color": "#ed1c24", "size": 35}, "encoding": {"x": {"datum": 93}, "y": {"datum": -176}}},
      {"data": {"values": [{}]}, "mark": {"type": "text", "style": "om", "text": "1m", "color": "#ed1c24"}, "encoding": {"x": {"datum": 56}, "y": {"datum": -163}}},
      {"data": {"values": [{}]}, "mark": {"type": "text", "style": "ky", "text": "BHPSO", "color": "#ed1c24"}, "encoding": {"x": {"datum": 104}, "y": {"datum": -176}}}
     ]},
     {"data": {"values": [{}]}, "mark": {"type": "text", "style": "lt", "text": "E", "color": "#231f20", "fontSize": 19}, "encoding": {"x": {"datum": -230, "axis": {"orient": "top", "title": null}}, "y": {"datum": 167, "axis": {"orient": "right", "title": null}}}}
    ]}
  ], "spacing": 39, "bounds": "flush"},
  {"hconcat": [
   {"width": 211, "height": 204,
    "resolve": {"axis": {"x": "independent", "y": "independent"}},
    "layer": [
     {"layer": [
      {"data": {"name": "fault"}, "mark": "rect",
       "encoding": {
        "x": {"field": "x0", "type": "quantitative", "scale": {"domain": [-200, 200], "nice": false}, "axis": {"title": null}},
        "x2": {"field": "x1"},
        "y": {"field": "y0", "type": "quantitative", "scale": {"domain": [-200, 200], "nice": false}, "axis": {"title": null}},
        "y2": {"field": "y1"},
        "color": {"field": "part", "type": "nominal", "scale": {"domain": ["hanging wall", "foot wall"], "range": ["#00a0e2", "#a7a9ac"]}, "legend": null}}},
      {"data": {"values": [{}]}, "mark": {"type": "rect", "color": "#00aeef"}, "encoding": {"x": {"datum": -148}, "x2": {"datum": -50}, "y": {"datum": -137}, "y2": {"datum": -154}}},
      {"data": {"values": [{}]}, "mark": {"type": "rect", "color": "#a7a9ac"}, "encoding": {"x": {"datum": -148}, "x2": {"datum": -50}, "y": {"datum": -171}, "y2": {"datum": -191}}},
      {"data": {"values": [{}]}, "mark": {"type": "text", "style": "bx", "text": "hanging wall", "color": "#231f20"}, "encoding": {"x": {"datum": -99}, "y": {"datum": -145.5}}},
      {"data": {"values": [{}]}, "mark": {"type": "text", "style": "bx", "text": "foot wall", "color": "#231f20"}, "encoding": {"x": {"datum": -99}, "y": {"datum": -181}}},
      {"data": {"name": "gps"},
       "transform": [{"calculate": "datum.u - datum.uA", "as": "du"}, {"calculate": "datum.v - datum.vA", "as": "dv"}, {"calculate": "datum.x + 63 * datum.du", "as": "xe"}, {"calculate": "datum.y + 63 * datum.dv", "as": "ye"}, {"calculate": "atan2(-datum.dv, datum.du) * 180 / PI", "as": "ang"}],
       "layer": [
        {"mark": {"type": "rule", "color": "#000000", "strokeWidth": 1.2}, "encoding": {"x": {"field": "x", "type": "quantitative"}, "y": {"field": "y", "type": "quantitative"}, "x2": {"field": "xe"}, "y2": {"field": "ye"}}},
        {"mark": {"type": "point", "shape": "triangle-right", "filled": true, "opacity": 1, "color": "#000000", "size": 9}, "encoding": {"x": {"field": "xe", "type": "quantitative"}, "y": {"field": "ye", "type": "quantitative"}, "angle": {"field": "ang", "type": "quantitative", "scale": null}}}
       ]},
      {"data": {"values": [{}]}, "mark": {"type": "rule", "color": "#000000", "strokeWidth": 1.2}, "encoding": {"x": {"datum": 32}, "x2": {"datum": 94}, "y": {"datum": -176}}},
      {"data": {"values": [{}]}, "mark": {"type": "point", "shape": "triangle-right", "filled": true, "opacity": 1, "color": "#000000", "size": 30}, "encoding": {"x": {"datum": 94}, "y": {"datum": -176}}},
      {"data": {"values": [{}]}, "mark": {"type": "text", "style": "om", "text": "1m", "color": "#000000"}, "encoding": {"x": {"datum": 54}, "y": {"datum": -162}}},
      {"data": {"values": [{}]}, "mark": {"type": "text", "style": "ky", "text": "Error", "color": "#000000"}, "encoding": {"x": {"datum": 106}, "y": {"datum": -176}}},
      {"data": {"values": [{}]}, "mark": {"type": "text", "style": "ky", "text": "RMSE = 0.09 m", "color": "#000000"}, "encoding": {"x": {"datum": -8}, "y": {"datum": 149}}}
     ]},
     {"data": {"values": [{}]}, "mark": {"type": "text", "style": "lt", "text": "E", "color": "#231f20"}, "encoding": {"x": {"datum": -280, "axis": {"orient": "top", "title": null}}, "y": {"datum": 162, "axis": {"orient": "right", "title": null}}}}
    ]},
   {"width": 211, "height": 204,
    "resolve": {"axis": {"x": "independent", "y": "independent"}},
    "layer": [
     {"layer": [
      {"data": {"name": "fault"}, "mark": "rect",
       "encoding": {
        "x": {"field": "x0", "type": "quantitative", "scale": {"domain": [-200, 200], "nice": false}, "axis": {"title": null}},
        "x2": {"field": "x1"},
        "y": {"field": "y0", "type": "quantitative", "scale": {"domain": [-200, 200], "nice": false}, "axis": {"title": null}},
        "y2": {"field": "y1"},
        "color": {"field": "part", "type": "nominal", "scale": {"domain": ["hanging wall", "foot wall"], "range": ["#00a0e2", "#a7a9ac"]}, "legend": null}}},
      {"data": {"values": [{}]}, "mark": {"type": "rect", "color": "#00aeef"}, "encoding": {"x": {"datum": -148}, "x2": {"datum": -50}, "y": {"datum": -137}, "y2": {"datum": -154}}},
      {"data": {"values": [{}]}, "mark": {"type": "rect", "color": "#a7a9ac"}, "encoding": {"x": {"datum": -148}, "x2": {"datum": -50}, "y": {"datum": -171}, "y2": {"datum": -191}}},
      {"data": {"values": [{}]}, "mark": {"type": "text", "style": "bx", "text": "hanging wall", "color": "#231f20"}, "encoding": {"x": {"datum": -99}, "y": {"datum": -145.5}}},
      {"data": {"values": [{}]}, "mark": {"type": "text", "style": "bx", "text": "foot wall", "color": "#231f20"}, "encoding": {"x": {"datum": -99}, "y": {"datum": -181}}},
      {"data": {"name": "gps"},
       "transform": [{"calculate": "datum.u - datum.uB", "as": "du"}, {"calculate": "datum.v - datum.vB", "as": "dv"}, {"calculate": "datum.x + 63 * datum.du", "as": "xe"}, {"calculate": "datum.y + 63 * datum.dv", "as": "ye"}, {"calculate": "atan2(-datum.dv, datum.du) * 180 / PI", "as": "ang"}],
       "layer": [
        {"mark": {"type": "rule", "color": "#000000", "strokeWidth": 1.2}, "encoding": {"x": {"field": "x", "type": "quantitative"}, "y": {"field": "y", "type": "quantitative"}, "x2": {"field": "xe"}, "y2": {"field": "ye"}}},
        {"mark": {"type": "point", "shape": "triangle-right", "filled": true, "opacity": 1, "color": "#000000", "size": 9}, "encoding": {"x": {"field": "xe", "type": "quantitative"}, "y": {"field": "ye", "type": "quantitative"}, "angle": {"field": "ang", "type": "quantitative", "scale": null}}}
       ]},
      {"data": {"values": [{}]}, "mark": {"type": "rule", "color": "#000000", "strokeWidth": 1.2}, "encoding": {"x": {"datum": 32}, "x2": {"datum": 94}, "y": {"datum": -176}}},
      {"data": {"values": [{}]}, "mark": {"type": "point", "shape": "triangle-right", "filled": true, "opacity": 1, "color": "#000000", "size": 30}, "encoding": {"x": {"datum": 94}, "y": {"datum": -176}}},
      {"data": {"values": [{}]}, "mark": {"type": "text", "style": "om", "text": "1m", "color": "#000000"}, "encoding": {"x": {"datum": 54}, "y": {"datum": -162}}},
      {"data": {"values": [{}]}, "mark": {"type": "text", "style": "ky", "text": "Error", "color": "#000000"}, "encoding": {"x": {"datum": 106}, "y": {"datum": -176}}},
      {"data": {"values": [{}]}, "mark": {"type": "text", "style": "ky", "text": "RMSE = 0.09 m", "color": "#000000"}, "encoding": {"x": {"datum": -8}, "y": {"datum": 146}}}
     ]},
     {"data": {"values": [{}]}, "mark": {"type": "text", "style": "lt", "text": "F", "color": "#231f20"}, "encoding": {"x": {"datum": -238, "axis": {"orient": "top", "title": null}}, "y": {"datum": 161, "axis": {"orient": "right", "title": null}}}}
    ]},
   {"width": 211, "height": 204,
    "resolve": {"axis": {"x": "independent", "y": "independent"}},
    "layer": [
     {"layer": [
      {"data": {"name": "fault"}, "mark": "rect",
       "encoding": {
        "x": {"field": "x0", "type": "quantitative", "scale": {"domain": [-200, 200], "nice": false}, "axis": {"title": null}},
        "x2": {"field": "x1"},
        "y": {"field": "y0", "type": "quantitative", "scale": {"domain": [-200, 200], "nice": false}, "axis": {"title": null}},
        "y2": {"field": "y1"},
        "color": {"field": "part", "type": "nominal", "scale": {"domain": ["hanging wall", "foot wall"], "range": ["#00a0e2", "#a7a9ac"]}, "legend": null}}},
      {"data": {"values": [{}]}, "mark": {"type": "rect", "color": "#00aeef"}, "encoding": {"x": {"datum": -148}, "x2": {"datum": -50}, "y": {"datum": -137}, "y2": {"datum": -154}}},
      {"data": {"values": [{}]}, "mark": {"type": "rect", "color": "#a7a9ac"}, "encoding": {"x": {"datum": -148}, "x2": {"datum": -50}, "y": {"datum": -171}, "y2": {"datum": -191}}},
      {"data": {"values": [{}]}, "mark": {"type": "text", "style": "bx", "text": "hanging wall", "color": "#231f20"}, "encoding": {"x": {"datum": -99}, "y": {"datum": -145.5}}},
      {"data": {"values": [{}]}, "mark": {"type": "text", "style": "bx", "text": "foot wall", "color": "#231f20"}, "encoding": {"x": {"datum": -99}, "y": {"datum": -181}}},
      {"data": {"name": "gps"},
       "transform": [{"calculate": "datum.u - datum.uC", "as": "du"}, {"calculate": "datum.v - datum.vC", "as": "dv"}, {"calculate": "datum.x + 63 * datum.du", "as": "xe"}, {"calculate": "datum.y + 63 * datum.dv", "as": "ye"}, {"calculate": "atan2(-datum.dv, datum.du) * 180 / PI", "as": "ang"}],
       "layer": [
        {"mark": {"type": "rule", "color": "#000000", "strokeWidth": 1.2}, "encoding": {"x": {"field": "x", "type": "quantitative"}, "y": {"field": "y", "type": "quantitative"}, "x2": {"field": "xe"}, "y2": {"field": "ye"}}},
        {"mark": {"type": "point", "shape": "triangle-right", "filled": true, "opacity": 1, "color": "#000000", "size": 9}, "encoding": {"x": {"field": "xe", "type": "quantitative"}, "y": {"field": "ye", "type": "quantitative"}, "angle": {"field": "ang", "type": "quantitative", "scale": null}}}
       ]},
      {"data": {"values": [{}]}, "mark": {"type": "rule", "color": "#000000", "strokeWidth": 1.2}, "encoding": {"x": {"datum": 32}, "x2": {"datum": 94}, "y": {"datum": -176}}},
      {"data": {"values": [{}]}, "mark": {"type": "point", "shape": "triangle-right", "filled": true, "opacity": 1, "color": "#000000", "size": 30}, "encoding": {"x": {"datum": 94}, "y": {"datum": -176}}},
      {"data": {"values": [{}]}, "mark": {"type": "text", "style": "om", "text": "1m", "color": "#000000"}, "encoding": {"x": {"datum": 54}, "y": {"datum": -162}}},
      {"data": {"values": [{}]}, "mark": {"type": "text", "style": "ky", "text": "Error", "color": "#000000"}, "encoding": {"x": {"datum": 106}, "y": {"datum": -176}}},
      {"data": {"values": [{}]}, "mark": {"type": "text", "style": "ky", "text": "RMSE = 0.06 m", "color": "#000000"}, "encoding": {"x": {"datum": -6}, "y": {"datum": 146}}}
     ]},
     {"data": {"values": [{}]}, "mark": {"type": "text", "style": "lt", "text": "G", "color": "#231f20"}, "encoding": {"x": {"datum": -242, "axis": {"orient": "top", "title": null}}, "y": {"datum": 162, "axis": {"orient": "right", "title": null}}}}
    ]},
   {"width": 211, "height": 204,
    "resolve": {"axis": {"x": "independent", "y": "independent"}},
    "layer": [
     {"layer": [
      {"data": {"name": "fault"}, "mark": "rect",
       "encoding": {
        "x": {"field": "x0", "type": "quantitative", "scale": {"domain": [-200, 200], "nice": false}, "axis": {"title": null}},
        "x2": {"field": "x1"},
        "y": {"field": "y0", "type": "quantitative", "scale": {"domain": [-200, 200], "nice": false}, "axis": {"title": null}},
        "y2": {"field": "y1"},
        "color": {"field": "part", "type": "nominal", "scale": {"domain": ["hanging wall", "foot wall"], "range": ["#00a0e2", "#a7a9ac"]}, "legend": null}}},
      {"data": {"values": [{}]}, "mark": {"type": "rect", "color": "#00aeef"}, "encoding": {"x": {"datum": -148}, "x2": {"datum": -50}, "y": {"datum": -137}, "y2": {"datum": -154}}},
      {"data": {"values": [{}]}, "mark": {"type": "rect", "color": "#a7a9ac"}, "encoding": {"x": {"datum": -148}, "x2": {"datum": -50}, "y": {"datum": -171}, "y2": {"datum": -191}}},
      {"data": {"values": [{}]}, "mark": {"type": "text", "style": "bx", "text": "hanging wall", "color": "#231f20"}, "encoding": {"x": {"datum": -99}, "y": {"datum": -145.5}}},
      {"data": {"values": [{}]}, "mark": {"type": "text", "style": "bx", "text": "foot wall", "color": "#231f20"}, "encoding": {"x": {"datum": -99}, "y": {"datum": -181}}},
      {"data": {"name": "gps"},
       "transform": [{"calculate": "datum.u - datum.uD", "as": "du"}, {"calculate": "datum.v - datum.vD", "as": "dv"}, {"calculate": "datum.x + 63 * datum.du", "as": "xe"}, {"calculate": "datum.y + 63 * datum.dv", "as": "ye"}, {"calculate": "atan2(-datum.dv, datum.du) * 180 / PI", "as": "ang"}],
       "layer": [
        {"mark": {"type": "rule", "color": "#000000", "strokeWidth": 1.2}, "encoding": {"x": {"field": "x", "type": "quantitative"}, "y": {"field": "y", "type": "quantitative"}, "x2": {"field": "xe"}, "y2": {"field": "ye"}}},
        {"mark": {"type": "point", "shape": "triangle-right", "filled": true, "opacity": 1, "color": "#000000", "size": 9}, "encoding": {"x": {"field": "xe", "type": "quantitative"}, "y": {"field": "ye", "type": "quantitative"}, "angle": {"field": "ang", "type": "quantitative", "scale": null}}}
       ]},
      {"data": {"values": [{}]}, "mark": {"type": "rule", "color": "#000000", "strokeWidth": 1.2}, "encoding": {"x": {"datum": 32}, "x2": {"datum": 94}, "y": {"datum": -176}}},
      {"data": {"values": [{}]}, "mark": {"type": "point", "shape": "triangle-right", "filled": true, "opacity": 1, "color": "#000000", "size": 30}, "encoding": {"x": {"datum": 94}, "y": {"datum": -176}}},
      {"data": {"values": [{}]}, "mark": {"type": "text", "style": "om", "text": "1m", "color": "#000000"}, "encoding": {"x": {"datum": 54}, "y": {"datum": -162}}},
      {"data": {"values": [{}]}, "mark": {"type": "text", "style": "ky", "text": "Error", "color": "#000000"}, "encoding": {"x": {"datum": 106}, "y": {"datum": -176}}},
      {"data": {"values": [{}]}, "mark": {"type": "text", "style": "ky", "text": "RMSE = 0.02 m", "color": "#000000"}, "encoding": {"x": {"datum": -6}, "y": {"datum": 147}}}
     ]},
     {"data": {"values": [{}]}, "mark": {"type": "text", "style": "lt", "text": "H", "color": "#231f20"}, "encoding": {"x": {"datum": -235, "axis": {"orient": "top", "title": null}}, "y": {"datum": 161, "axis": {"orient": "right", "title": null}}}}
    ]},
   {"width": 211, "height": 204,
    "resolve": {"axis": {"x": "independent", "y": "independent"}},
    "layer": [
     {"layer": [
      {"data": {"name": "fault"}, "mark": "rect",
       "encoding": {
        "x": {"field": "x0", "type": "quantitative", "scale": {"domain": [-200, 200], "nice": false}, "axis": {"title": null}},
        "x2": {"field": "x1"},
        "y": {"field": "y0", "type": "quantitative", "scale": {"domain": [-200, 200], "nice": false}, "axis": {"title": null}},
        "y2": {"field": "y1"},
        "color": {"field": "part", "type": "nominal", "scale": {"domain": ["hanging wall", "foot wall"], "range": ["#00a0e2", "#a7a9ac"]}, "legend": null}}},
      {"data": {"values": [{}]}, "mark": {"type": "rect", "color": "#00aeef"}, "encoding": {"x": {"datum": -148}, "x2": {"datum": -50}, "y": {"datum": -137}, "y2": {"datum": -154}}},
      {"data": {"values": [{}]}, "mark": {"type": "rect", "color": "#a7a9ac"}, "encoding": {"x": {"datum": -148}, "x2": {"datum": -50}, "y": {"datum": -171}, "y2": {"datum": -191}}},
      {"data": {"values": [{}]}, "mark": {"type": "text", "style": "bx", "text": "hanging wall", "color": "#231f20"}, "encoding": {"x": {"datum": -99}, "y": {"datum": -145.5}}},
      {"data": {"values": [{}]}, "mark": {"type": "text", "style": "bx", "text": "foot wall", "color": "#231f20"}, "encoding": {"x": {"datum": -99}, "y": {"datum": -181}}},
      {"data": {"name": "gps"},
       "transform": [{"calculate": "datum.u - datum.uE", "as": "du"}, {"calculate": "datum.v - datum.vE", "as": "dv"}, {"calculate": "datum.x + 63 * datum.du", "as": "xe"}, {"calculate": "datum.y + 63 * datum.dv", "as": "ye"}, {"calculate": "atan2(-datum.dv, datum.du) * 180 / PI", "as": "ang"}],
       "layer": [
        {"mark": {"type": "rule", "color": "#000000", "strokeWidth": 1.2}, "encoding": {"x": {"field": "x", "type": "quantitative"}, "y": {"field": "y", "type": "quantitative"}, "x2": {"field": "xe"}, "y2": {"field": "ye"}}},
        {"mark": {"type": "point", "shape": "triangle-right", "filled": true, "opacity": 1, "color": "#000000", "size": 9}, "encoding": {"x": {"field": "xe", "type": "quantitative"}, "y": {"field": "ye", "type": "quantitative"}, "angle": {"field": "ang", "type": "quantitative", "scale": null}}}
       ]},
      {"data": {"values": [{}]}, "mark": {"type": "rule", "color": "#000000", "strokeWidth": 1.2}, "encoding": {"x": {"datum": 32}, "x2": {"datum": 94}, "y": {"datum": -176}}},
      {"data": {"values": [{}]}, "mark": {"type": "point", "shape": "triangle-right", "filled": true, "opacity": 1, "color": "#000000", "size": 30}, "encoding": {"x": {"datum": 94}, "y": {"datum": -176}}},
      {"data": {"values": [{}]}, "mark": {"type": "text", "style": "om", "text": "1m", "color": "#000000"}, "encoding": {"x": {"datum": 54}, "y": {"datum": -162}}},
      {"data": {"values": [{}]}, "mark": {"type": "text", "style": "ky", "text": "Error", "color": "#000000"}, "encoding": {"x": {"datum": 106}, "y": {"datum": -176}}},
      {"data": {"values": [{}]}, "mark": {"type": "text", "style": "ky", "text": "RMSE = 0.02 m", "color": "#000000"}, "encoding": {"x": {"datum": -6}, "y": {"datum": 140}}}
     ]},
     {"data": {"values": [{}]}, "mark": {"type": "text", "style": "lt", "text": "J", "color": "#231f20", "fontSize": 19}, "encoding": {"x": {"datum": -225, "axis": {"orient": "top", "title": null}}, "y": {"datum": 170, "axis": {"orient": "right", "title": null}}}}
    ]}
  ], "spacing": 39, "bounds": "flush"}
 ],
 "config": {
  "font": "Liberation Sans",
  "view": {"stroke": "#231f20", "strokeWidth": 1.2},
  "axis": {"grid": false, "domain": false, "labels": false, "tickCount": 4, "tickSize": -3, "tickColor": "#231f20", "tickWidth": 1.2,
   "labelFont": "Liberation Sans", "labelFontWeight": "bold", "labelFontSize": 13.5, "labelColor": "#231f20",
   "titleFont": "Liberation Sans", "titleFontWeight": "bold", "titleFontSize": 15, "titleColor": "#231f20"},
  "style": {
   "lt": {"font": "Liberation Sans", "fontWeight": "bold", "fontSize": 23, "align": "center", "baseline": "alphabetic"},
   "bx": {"font": "Liberation Sans", "fontWeight": "bold", "fontSize": 9, "align": "center", "baseline": "middle"},
   "ky": {"font": "Liberation Sans", "fontWeight": "bold", "fontSize": 13, "align": "left", "baseline": "middle"},
   "om": {"font": "Liberation Sans", "fontWeight": "bold", "fontSize": 12, "align": "center", "baseline": "middle"}
  }
 }
}
